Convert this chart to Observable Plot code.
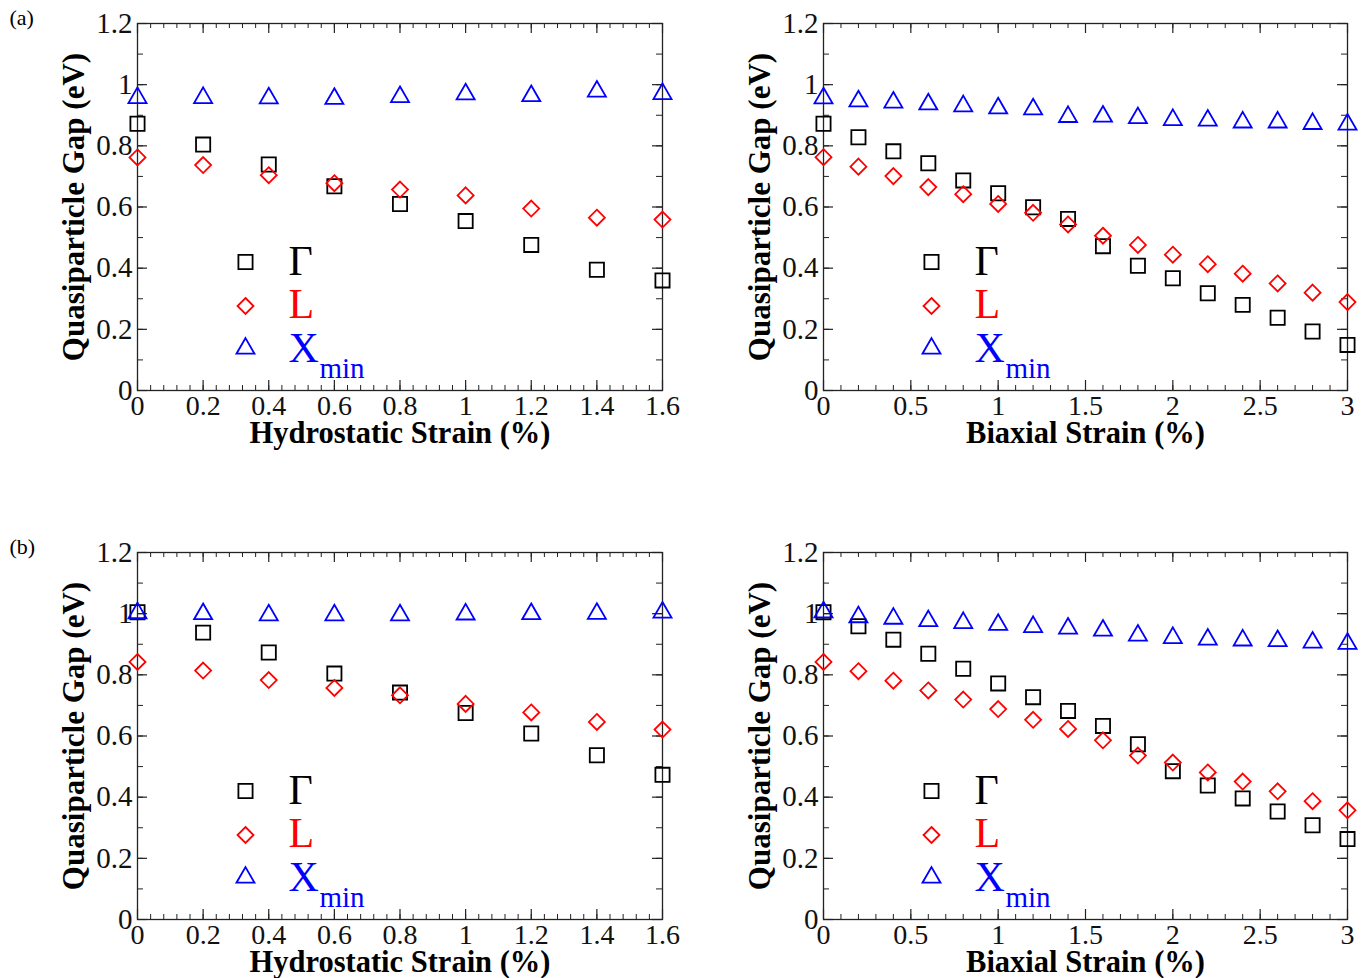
<!DOCTYPE html>
<html>
<head>
<meta charset="utf-8">
<script src="https://cdn.jsdelivr.net/npm/d3@7"></script>
<script src="https://cdn.jsdelivr.net/npm/@observablehq/plot@0.6"></script>
<style>
  body { margin: 0; background: #fff; }
  #wrap { position: relative; width: 1368px; height: 978px; background: #fff; }
  #wrap svg { position: absolute; overflow: visible; }
</style>
</head>
<body>
<div id="wrap"></div>
<script>
// ---------- data ----------
const hydroStrain = [0, 0.2, 0.4, 0.6, 0.8, 1.0, 1.2, 1.4, 1.6];
const biaxStrain  = [0, 0.2, 0.4, 0.6, 0.8, 1.0, 1.2, 1.4, 1.6, 1.8, 2.0, 2.2, 2.4, 2.6, 2.8, 3.0];

// (a) hydrostatic
const aHydroGamma = [0.872, 0.804, 0.739, 0.668, 0.610, 0.554, 0.476, 0.395, 0.360];
const aHydroL     = [0.762, 0.737, 0.704, 0.678, 0.657, 0.638, 0.595, 0.565, 0.559];
const aHydroX     = [0.957, 0.957, 0.956, 0.954, 0.960, 0.969, 0.963, 0.978, 0.970];
// (a) biaxial
const aBiaxGamma = [0.872, 0.828, 0.782, 0.743, 0.687, 0.645, 0.599, 0.561, 0.472, 0.408, 0.367, 0.318, 0.280, 0.238, 0.193, 0.149];
const aBiaxL     = [0.763, 0.732, 0.701, 0.665, 0.642, 0.610, 0.581, 0.543, 0.506, 0.476, 0.444, 0.413, 0.382, 0.350, 0.320, 0.289];
const aBiaxX     = [0.956, 0.946, 0.942, 0.936, 0.930, 0.923, 0.920, 0.895, 0.896, 0.891, 0.885, 0.883, 0.877, 0.877, 0.872, 0.870];
// (b) hydrostatic
const bHydroGamma = [1.005, 0.938, 0.873, 0.804, 0.742, 0.675, 0.608, 0.537, 0.473];
const bHydroL     = [0.842, 0.814, 0.783, 0.757, 0.733, 0.705, 0.677, 0.646, 0.621];
const bHydroX     = [1.002, 0.999, 0.995, 0.995, 0.995, 0.998, 0.999, 1.000, 1.004];
// (b) biaxial
const bBiaxGamma = [1.005, 0.959, 0.915, 0.869, 0.820, 0.772, 0.727, 0.682, 0.633, 0.573, 0.485, 0.438, 0.396, 0.353, 0.308, 0.263];
const bBiaxL     = [0.842, 0.812, 0.781, 0.749, 0.719, 0.688, 0.653, 0.623, 0.586, 0.536, 0.513, 0.481, 0.451, 0.419, 0.387, 0.357];
const bBiaxX     = [1.005, 0.989, 0.984, 0.976, 0.970, 0.964, 0.957, 0.952, 0.945, 0.929, 0.921, 0.916, 0.913, 0.911, 0.906, 0.902];

// ticks and labels
const yTicks = [0, 0.2, 0.4, 0.6, 0.8, 1.0, 1.2];
const yTickLabels = ["0", "0.2", "0.4", "0.6", "0.8", "1", "1.2"];
const hydroTicks = [0, 0.2, 0.4, 0.6, 0.8, 1.0, 1.2, 1.4, 1.6];
const hydroTickLabels = ["0", "0.2", "0.4", "0.6", "0.8", "1", "1.2", "1.4", "1.6"];
const biaxTicks = [0, 0.5, 1.0, 1.5, 2.0, 2.5, 3.0];
const biaxTickLabels = ["0", "0.5", "1", "1.5", "2", "2.5", "3"];

const yTitle = "Quasiparticle Gap (eV)";
const hydroTitle = "Hydrostatic Strain (%)";
const biaxTitle = "Biaxial Strain (%)";
const seriesNames = ["Γ", "L", "X"];
const seriesColors = ["#000000", "#ff0000", "#0000ff"];

// ---------- drawing ----------
const FONT = "Liberation Serif, Times New Roman, serif";

function panel(opts) {
  const {left, top, width, height, ml, mr, mt, mb, xDomain, xTicks, xTickLabels, xMinorStep,
         xTitle, strain, gamma, L, X, tag} = opts;
  const pw = width - ml - mr, ph = height - mt - mb;
  const xMinor = d3.range(0, xDomain[1] + 1e-9, xMinorStep);
  const yMinor = d3.range(0, 1.2 + 1e-9, 0.1);
  const rows = (vals) => strain.map((s, i) => ({s, v: vals[i]}));
  const sw = 1.8;
  const axisColor = "#222";
  const lbl = {frameAnchor: "top-left", textAnchor: "start", lineAnchor: "middle"};

  const marks = [
    // inward ticks on all four sides
    Plot.tickX(xMinor, {x: d => d, insetTop: ph - 5, stroke: axisColor, strokeWidth: 1}),
    Plot.tickX(xMinor, {x: d => d, insetBottom: ph - 5, stroke: axisColor, strokeWidth: 1}),
    Plot.tickX(xTicks, {x: d => d, insetTop: ph - 10, stroke: axisColor, strokeWidth: 1.2}),
    Plot.tickX(xTicks, {x: d => d, insetBottom: ph - 10, stroke: axisColor, strokeWidth: 1.2}),
    Plot.tickY(yMinor, {y: d => d, insetRight: pw - 6, stroke: axisColor, strokeWidth: 1}),
    Plot.tickY(yMinor, {y: d => d, insetLeft: pw - 6, stroke: axisColor, strokeWidth: 1}),
    Plot.tickY(yTicks, {y: d => d, insetRight: pw - 10, stroke: axisColor, strokeWidth: 1.2}),
    Plot.tickY(yTicks, {y: d => d, insetLeft: pw - 10, stroke: axisColor, strokeWidth: 1.2}),
    Plot.frame({stroke: axisColor, strokeWidth: 1.3}),
    Plot.axisX({ticks: xTicks, tickSize: 0, tickPadding: 5, fontSize: 28, fill: "#111",
                tickFormat: d => xTickLabels[xTicks.indexOf(d)], label: null}),
    Plot.axisY({ticks: yTicks, tickSize: 0, tickPadding: 5, fontSize: 29, fill: "#111",
                tickFormat: d => yTickLabels[yTicks.indexOf(d)], label: null}),
    // axis titles
    Plot.text([yTitle], {frameAnchor: "left", textAnchor: "middle", lineAnchor: "middle", dx: -63, rotate: -90,
                         fontSize: 31, fontWeight: "bold", fill: "#000"}),
    Plot.text([xTitle], {frameAnchor: "bottom", textAnchor: "middle", lineAnchor: "middle", dy: 43,
                         fontSize: 30.5, fontWeight: "bold", fill: "#000"}),
    // data
    Plot.dot(rows(gamma), {x: "s", y: "v", symbol: "square", r: 8, stroke: seriesColors[0], strokeWidth: sw, fill: "none"}),
    Plot.dot(rows(L), {x: "s", y: "v", symbol: "diamond2", r: 7.2, stroke: seriesColors[1], strokeWidth: sw, fill: "none"}),
    Plot.dot(rows(X), {x: "s", y: "v", symbol: "triangle", r: 6.7, stroke: seriesColors[2], strokeWidth: sw, fill: "none"}),
    // legend
    Plot.dot([0], {frameAnchor: "top-left", dx: 108, dy: 238.5, symbol: "square", r: 8, stroke: seriesColors[0], strokeWidth: sw, fill: "none"}),
    Plot.dot([0], {frameAnchor: "top-left", dx: 108, dy: 282.5, symbol: "diamond2", r: 7.2, stroke: seriesColors[1], strokeWidth: sw, fill: "none"}),
    Plot.dot([0], {frameAnchor: "top-left", dx: 108, dy: 325, symbol: "triangle", r: 6.7, stroke: seriesColors[2], strokeWidth: sw, fill: "none"}),
    Plot.text([seriesNames[0]], {...lbl, dx: 151, dy: 238.5, fontSize: 42, fill: seriesColors[0]}),
    Plot.text([seriesNames[1]], {...lbl, dx: 151, dy: 281, fontSize: 42, fill: seriesColors[1]}),
    Plot.text([seriesNames[2]], {...lbl, dx: 151, dy: 325, fontSize: 42, fill: seriesColors[2]}),
    Plot.text(["min"], {...lbl, dx: 182, dy: 345, fontSize: 29, fill: seriesColors[2]}),
    // panel tag
    ...(tag ? [Plot.text([tag], {...lbl, dx: 9 - ml, dy: -6, fontSize: 22, fill: "#000"})] : [])
  ];

  const svg = Plot.plot({
    width, height,
    marginLeft: ml, marginRight: mr, marginTop: mt, marginBottom: mb,
    style: {fontFamily: FONT, fontSize: "27px", background: "transparent", overflow: "visible"},
    x: {domain: xDomain, label: null},
    y: {domain: [0, 1.2], label: null},
    marks
  });
  svg.style.left = left + "px";
  svg.style.top = top + "px";
  document.getElementById("wrap").appendChild(svg);
}

const W = 684;
// top row
panel({left: 0, top: 0, width: W, height: 460, ml: 137, mr: 22, mt: 23, mb: 70,
  xDomain: [0, 1.6], xTicks: hydroTicks, xTickLabels: hydroTickLabels, xMinorStep: 0.04,
  xTitle: hydroTitle, strain: hydroStrain, gamma: aHydroGamma, L: aHydroL, X: aHydroX, tag: "(a)"});
panel({left: 684, top: 0, width: W, height: 460, ml: 139, mr: 21, mt: 23, mb: 70,
  xDomain: [0, 3], xTicks: biaxTicks, xTickLabels: biaxTickLabels, xMinorStep: 0.1,
  xTitle: biaxTitle, strain: biaxStrain, gamma: aBiaxGamma, L: aBiaxL, X: aBiaxX, tag: null});
// bottom row
panel({left: 0, top: 489, width: W, height: 489, ml: 137, mr: 22, mt: 63, mb: 59,
  xDomain: [0, 1.6], xTicks: hydroTicks, xTickLabels: hydroTickLabels, xMinorStep: 0.04,
  xTitle: hydroTitle, strain: hydroStrain, gamma: bHydroGamma, L: bHydroL, X: bHydroX, tag: "(b)"});
panel({left: 684, top: 489, width: W, height: 489, ml: 139, mr: 21, mt: 63, mb: 59,
  xDomain: [0, 3], xTicks: biaxTicks, xTickLabels: biaxTickLabels, xMinorStep: 0.1,
  xTitle: biaxTitle, strain: biaxStrain, gamma: bBiaxGamma, L: bBiaxL, X: bBiaxX, tag: null});
</script>
</body>
</html>
